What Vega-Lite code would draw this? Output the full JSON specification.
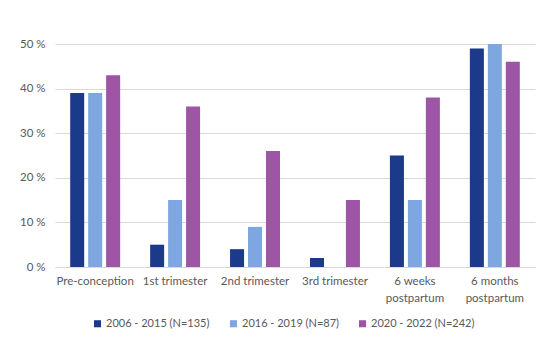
{
  "$schema": "https://vega.github.io/schema/vega-lite/v6.json",
  "width": 480,
  "height": 223,
  "autosize": {"type": "none"},
  "padding": {"left": 55, "top": 44, "right": 4, "bottom": 74},
  "background": "white",
  "config": {
    "font": "Lato",
    "view": {"stroke": null},
    "axis": {"labelFont": "Lato", "labelFontSize": 11.5, "labelColor": "#595959"},
    "legend": {"labelFont": "Lato", "labelFontSize": 11, "labelColor": "#595959"}
  },
  "data": {
    "values": [
      {"stage": "Pre-conception", "period": "2006 - 2015 (N=135)", "pct": 39},
      {"stage": "Pre-conception", "period": "2016 - 2019 (N=87)", "pct": 39},
      {"stage": "Pre-conception", "period": "2020 - 2022 (N=242)", "pct": 43},
      {"stage": "1st trimester", "period": "2006 - 2015 (N=135)", "pct": 5},
      {"stage": "1st trimester", "period": "2016 - 2019 (N=87)", "pct": 15},
      {"stage": "1st trimester", "period": "2020 - 2022 (N=242)", "pct": 36},
      {"stage": "2nd trimester", "period": "2006 - 2015 (N=135)", "pct": 4},
      {"stage": "2nd trimester", "period": "2016 - 2019 (N=87)", "pct": 9},
      {"stage": "2nd trimester", "period": "2020 - 2022 (N=242)", "pct": 26},
      {"stage": "3rd trimester", "period": "2006 - 2015 (N=135)", "pct": 2},
      {"stage": "3rd trimester", "period": "2016 - 2019 (N=87)", "pct": 0},
      {"stage": "3rd trimester", "period": "2020 - 2022 (N=242)", "pct": 15},
      {"stage": "6 weeks postpartum", "period": "2006 - 2015 (N=135)", "pct": 25},
      {"stage": "6 weeks postpartum", "period": "2016 - 2019 (N=87)", "pct": 15},
      {"stage": "6 weeks postpartum", "period": "2020 - 2022 (N=242)", "pct": 38},
      {"stage": "6 months postpartum", "period": "2006 - 2015 (N=135)", "pct": 49},
      {"stage": "6 months postpartum", "period": "2016 - 2019 (N=87)", "pct": 50},
      {"stage": "6 months postpartum", "period": "2020 - 2022 (N=242)", "pct": 46}
    ]
  },
  "mark": {"type": "bar"},
  "encoding": {
    "x": {
      "field": "stage",
      "type": "nominal",
      "sort": ["Pre-conception", "1st trimester", "2nd trimester", "3rd trimester", "6 weeks postpartum", "6 months postpartum"],
      "scale": {"paddingInner": 0.375, "paddingOuter": 0.19},
      "axis": {
        "title": null,
        "labelAngle": 0,
        "ticks": false,
        "domainColor": "#d9d9d9",
        "labelPadding": 8,
        "labelExpr": "datum.value == '6 weeks postpartum' ? ['6 weeks', 'postpartum'] : datum.value == '6 months postpartum' ? ['6 months', 'postpartum'] : datum.value",
        "labelLineHeight": 17
      }
    },
    "xOffset": {
      "field": "period",
      "type": "nominal",
      "scale": {"paddingInner": 0.22, "paddingOuter": 0}
    },
    "y": {
      "field": "pct",
      "type": "quantitative",
      "scale": {"domain": [0, 50]},
      "axis": {
        "title": null,
        "values": [0, 10, 20, 30, 40, 50],
        "labelExpr": "datum.value + ' %'",
        "domain": false,
        "ticks": false,
        "gridColor": "#d9d9d9",
        "labelPadding": 10
      }
    },
    "color": {
      "field": "period",
      "type": "nominal",
      "scale": {"range": ["#1b3a8a", "#7fa7df", "#9e55a6"]},
      "legend": {
        "title": null,
        "orient": "none",
        "legendX": 37,
        "legendY": 274,
        "direction": "horizontal",
        "symbolType": "square",
        "symbolSize": 50,
        "symbolStrokeWidth": 0,
        "columnPadding": 18,
        "labelOffset": 3
      }
    }
  }
}
